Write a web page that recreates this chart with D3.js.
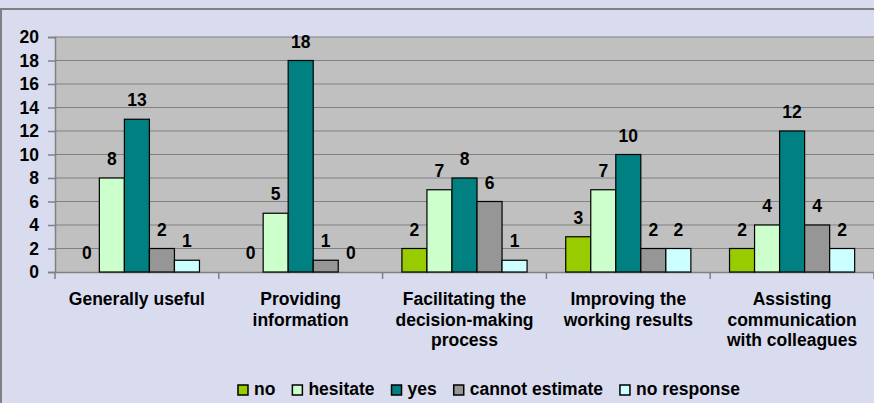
<!DOCTYPE html>
<html>
<head>
<meta charset="utf-8">
<script src="https://cdn.jsdelivr.net/npm/d3@7"></script>
<style>
  html, body { margin: 0; background: #d9dbee; overflow: hidden; }
  svg { display: block; }
  text { font-family: "Liberation Sans", Arial, sans-serif; font-weight: bold; fill: #000; }
</style>
</head>
<body>
<div class="chart"></div>
<script>
// chart data
var categories = ["Generally useful", "Providing information", "Facilitating the decision-making process",
  "Improving the working results", "Assisting communication with colleagues"];
var categoryLines = [["Generally useful"], ["Providing", "information"], ["Facilitating the", "decision-making", "process"],
  ["Improving the", "working results"], ["Assisting", "communication", "with colleagues"]];
var seriesNames = ["no", "hesitate", "yes", "cannot estimate", "no response"];
var noVals = [0, 0, 2, 3, 2];
var hesitateVals = [8, 5, 7, 7, 4];
var yesVals = [13, 18, 8, 10, 12];
var cannotVals = [2, 1, 6, 2, 4];
var noResponseVals = [1, 0, 1, 2, 2];
var yTicks = [0, 2, 4, 6, 8, 10, 12, 14, 16, 18, 20];

var seriesVals = [noVals, hesitateVals, yesVals, cannotVals, noResponseVals];
var colors = ["#99cc00", "#ccffcc", "#008080", "#969696", "#ccffff"];

var svgWidth = 874;
var svgHeight = 403;
var margin = {top: 37, right: 0, bottom: 131, left: 55};
var width = svgWidth - margin.left - margin.right;
var height = svgHeight - margin.top - margin.bottom;
var fontSize = 17.5;

var svg = d3.select(".chart")
  .append("svg")
  .attr("width", svgWidth)
  .attr("height", svgHeight);

// outer frame
svg.append("rect")
  .attr("x", 1).attr("y", 9)
  .attr("width", svgWidth + 10).attr("height", svgHeight + 10)
  .attr("fill", "#d9dbee")
  .attr("stroke", "#808080")
  .attr("stroke-width", 2);

var chartGroup = svg.append("g")
  .attr("transform", `translate(${margin.left}, ${margin.top})`);

var x0 = d3.scaleBand().domain(categories).range([0, width]);
var yScale = d3.scaleLinear().domain([0, 20]).range([height, 0]);
var pad = x0.bandwidth() * 0.118;
var x1 = d3.scaleBand().domain(seriesNames).range([pad, x0.bandwidth() - pad]);

// plot background
chartGroup.append("rect")
  .attr("width", width).attr("height", height)
  .attr("fill", "#c0c0c0");

// gridlines
chartGroup.selectAll(".grid")
  .data(yTicks.filter(d => d > 0))
  .enter().append("line")
  .attr("x1", 0).attr("x2", width)
  .attr("y1", d => yScale(d)).attr("y2", d => yScale(d))
  .attr("stroke", "#808080").attr("stroke-width", 1.2);

// y axis
var leftAxis = d3.axisLeft(yScale).tickValues(yTicks).tickSize(7).tickPadding(9);
var yAxis = chartGroup.append("g").call(leftAxis);
yAxis.select(".domain").attr("stroke", "#808080").attr("stroke-width", 1.5);
yAxis.selectAll(".tick line").attr("stroke", "#808080").attr("stroke-width", 1.5);
yAxis.selectAll("text").style("font-size", fontSize + "px").attr("font-family", null);

// x axis
var bottomAxis = d3.axisBottom(x0).tickSize(0).tickFormat("");
var xAxis = chartGroup.append("g")
  .attr("transform", `translate(0, ${height})`)
  .call(bottomAxis);
xAxis.select(".domain").attr("stroke", "#808080").attr("stroke-width", 1.5);
xAxis.selectAll(".catTick")
  .data(d3.range(categories.length + 1))
  .enter().append("line")
  .attr("x1", d => d * x0.step()).attr("x2", d => d * x0.step())
  .attr("y1", 0).attr("y2", 7)
  .attr("stroke", "#808080").attr("stroke-width", 1.5);

// category labels
categories.forEach(function(c, i) {
  var t = chartGroup.append("text")
    .attr("text-anchor", "middle")
    .style("font-size", fontSize + "px")
    .attr("x", x0(c) + x0.bandwidth() / 2)
    .attr("y", height + 33);
  categoryLines[i].forEach(function(line, j) {
    t.append("tspan")
      .attr("x", x0(c) + x0.bandwidth() / 2)
      .attr("dy", j === 0 ? 0 : 20.5)
      .text(line);
  });
});

// bars
seriesNames.forEach(function(s, si) {
  var g = chartGroup.append("g");
  g.selectAll("rect")
    .data(seriesVals[si])
    .enter().append("rect")
    .attr("x", (d, i) => x0(categories[i]) + x1(s))
    .attr("y", d => yScale(d))
    .attr("width", x1.bandwidth())
    .attr("height", d => height - yScale(d))
    .attr("fill", colors[si])
    .attr("stroke", d => d > 0 ? "#000" : "none")
    .attr("stroke-width", 1.2);
  g.selectAll("text")
    .data(seriesVals[si])
    .enter().append("text")
    .attr("text-anchor", "middle")
    .style("font-size", fontSize + "px")
    .attr("x", (d, i) => x0(categories[i]) + x1(s) + x1.bandwidth() / 2)
    .attr("y", d => yScale(d) - 13)
    .text(d => d);
});

// legend
var legend = svg.append("g");
var lx = 0;
seriesNames.forEach(function(s, si) {
  var item = legend.append("g").attr("transform", `translate(${lx}, 0)`);
  item.append("rect")
    .attr("x", 0).attr("y", -10)
    .attr("width", 10).attr("height", 10)
    .attr("fill", colors[si])
    .attr("stroke", "#000").attr("stroke-width", 1.5);
  var t = item.append("text")
    .attr("x", 16).attr("y", 0)
    .style("font-size", fontSize + "px")
    .text(s);
  lx += 16 + t.node().getComputedTextLength() + 17;
});
lx -= 17;
legend.attr("transform", `translate(${489 - lx / 2}, 395)`);
</script>
</body>
</html>
